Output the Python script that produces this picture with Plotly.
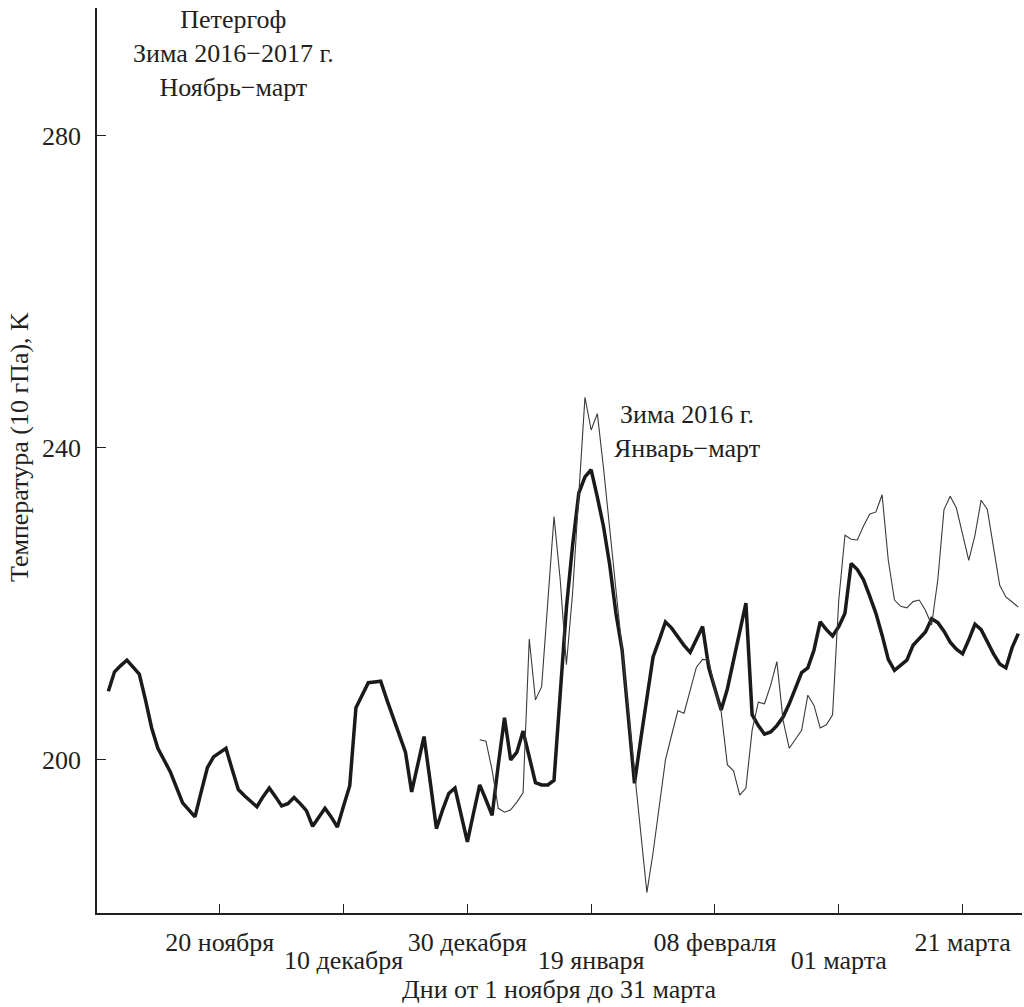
import plotly.graph_objects as go

# Day index (first plotted day = 1); ticks every 20 days
days_main = list(range(1, 149))
temp_2016_2017 = [
    208.8, 211.3, 212.1, 212.8, 211.9, 211.0, 207.7, 204.1, 201.5, 200.0,
    198.5, 196.5, 194.5, 193.6, 192.7, 195.9, 199.0, 200.4, 201.0, 201.5,
    198.8, 196.2, 195.4, 194.7, 194.0, 195.3, 196.4, 195.3, 194.1, 194.4,
    195.2, 194.4, 193.5, 191.5, 192.7, 193.8, 192.7, 191.4, 194.1, 196.7,
    206.7, 208.3, 209.9, 210.0, 210.1, 207.7, 205.5, 203.3, 201.0, 195.9,
    199.5, 203.0, 197.2, 191.2, 193.6, 195.7, 196.4, 193.1, 189.5, 193.2,
    196.8, 194.9, 192.9, 199.4, 205.4, 200.0, 201.0, 203.7, 200.5, 197.1,
    196.8, 196.8, 197.4, 208.5, 219.5, 227.5, 234.2, 236.3, 237.2, 233.7,
    229.9, 225.0, 218.8, 214.1, 206.0, 197.0, 202.6, 208.2, 213.2, 215.4,
    217.7, 216.9, 215.8, 214.7, 213.8, 215.4, 217.1, 211.8, 209.0, 206.4,
    209.1, 212.7, 216.3, 220.1, 205.8, 204.4, 203.3, 203.6, 204.4, 205.5,
    207.2, 209.1, 211.2, 211.8, 214.1, 217.7, 216.7, 215.9, 217.1, 218.8,
    225.2, 224.4, 223.1, 221.0, 218.8, 216.0, 212.9, 211.5, 212.1, 212.8,
    214.7, 215.5, 216.4, 218.1, 217.6, 216.5, 215.1, 214.2, 213.6, 215.4,
    217.4, 216.7, 215.1, 213.6, 212.3, 211.8, 214.4, 216.2,
]

days_2016 = list(range(61, 149))
temp_2016 = [
    202.6, 202.4, 198.7, 193.8, 193.3, 193.6, 194.6, 195.8, 215.5, 207.7,
    209.4, 219.9, 231.2, 223.1, 212.2, 221.4, 233.3, 246.5, 242.3, 244.4,
    237.4, 229.7, 222.0, 214.4, 206.5, 198.7, 190.9, 183.0, 188.1, 193.8,
    200.0, 203.2, 206.3, 206.0, 209.0, 211.9, 212.9, 212.8, 209.0, 206.2,
    199.4, 198.6, 195.5, 196.4, 203.8, 207.4, 207.2, 209.6, 212.6, 205.1,
    201.5, 202.6, 203.8, 208.3, 207.0, 204.1, 204.5, 205.8, 220.5, 228.8,
    228.3, 228.2, 230.0, 231.5, 231.8, 234.0, 225.6, 220.5, 219.7, 219.5,
    220.3, 220.5, 219.2, 217.3, 223.1, 232.1, 233.8, 232.3, 228.8, 225.6,
    228.8, 233.3, 232.1, 227.2, 222.4, 220.9, 220.3, 219.6,
]

tick_vals = [19, 39, 59, 79, 99, 119, 139]
tick_labels = ["20 ноября", "10 декабря", "30 декабря", "19 января",
               "08 февраля", "01 марта", "21 марта"]
upper_vals = tick_vals[0::2]
upper_text = tick_labels[0::2]
lower_vals = tick_vals[1::2]
lower_text = tick_labels[1::2]
y_ticks = [200, 240, 280]

FONT = "Liberation Serif"
TXT = "#231f20"
FS = 26

fig = go.Figure()
fig.add_trace(go.Scatter(x=days_2016, y=temp_2016, mode="lines", xaxis="x2",
                         line=dict(color="#3a3a3a", width=1.1), showlegend=False))
fig.add_trace(go.Scatter(x=days_main, y=temp_2016_2017, mode="lines",
                         line=dict(color="#1a1a1a", width=3.5), showlegend=False))

fig.update_layout(
    width=1024, height=1007,
    margin=dict(l=97, r=2, t=8, b=94),
    paper_bgcolor="white", plot_bgcolor="white",
    font=dict(family=FONT, size=FS, color=TXT),
    xaxis=dict(range=[-0.83, 148.6], showgrid=False, zeroline=False,
               automargin=False,
               showline=True, linecolor=TXT, linewidth=1.5,
               ticks="inside", ticklen=9, tickcolor=TXT, tickwidth=1,
               tickvals=tick_vals,
               ticktext=[t if v in upper_vals else "" for v, t in zip(tick_vals, tick_labels)],
               ticklabelstandoff=5,
               tickfont=dict(family=FONT, size=FS, color=TXT)),
    xaxis2=dict(overlaying="x", matches="x", anchor="y", side="bottom",
                automargin=False, showgrid=False, zeroline=False, showline=False,
                ticks="", tickvals=lower_vals, ticktext=lower_text,
                ticklabelstandoff=29,
                tickfont=dict(family=FONT, size=FS, color=TXT)),
    yaxis=dict(range=[180.38, 296.4], showgrid=False, zeroline=False,
               automargin=False,
               showline=True, linecolor=TXT, linewidth=1.5,
               ticks="inside", ticklen=9, tickcolor=TXT, tickwidth=1,
               tickvals=y_ticks, ticktext=[str(v) for v in y_ticks],
               ticklabelstandoff=9,
               tickfont=dict(family=FONT, size=FS, color=TXT)),
    annotations=[
        dict(text="Дни от 1 ноября до 31 марта",
             x=0.5, y=-0.084, xref="paper", yref="paper", xanchor="center",
             yanchor="middle", showarrow=False,
             font=dict(family=FONT, size=FS, color=TXT)),
        dict(text="Температура (10 гПа), K", textangle=-90,
             x=-0.0832, y=0.515, xref="paper", yref="paper", xanchor="center",
             yanchor="middle", showarrow=False,
             font=dict(family=FONT, size=FS, color=TXT)),
        dict(text="Петергоф<br>Зима 2016−2017 г.<br>Ноябрь−март",
             x=0.148, y=1.005, xref="paper", yref="paper", xanchor="center",
             yanchor="top", showarrow=False, align="center",
             font=dict(family=FONT, size=FS, color=TXT)),
        dict(text="Зима 2016 г.<br>Январь−март",
             x=0.638, y=0.5315, xref="paper", yref="paper", xanchor="center",
             yanchor="middle", showarrow=False, align="center",
             font=dict(family=FONT, size=FS, color=TXT)),
    ],
)

fig.write_html("out.html", config={"displayModeBar": False},
               post_script="document.body.style.margin='0';document.body.style.overflow='hidden';")
